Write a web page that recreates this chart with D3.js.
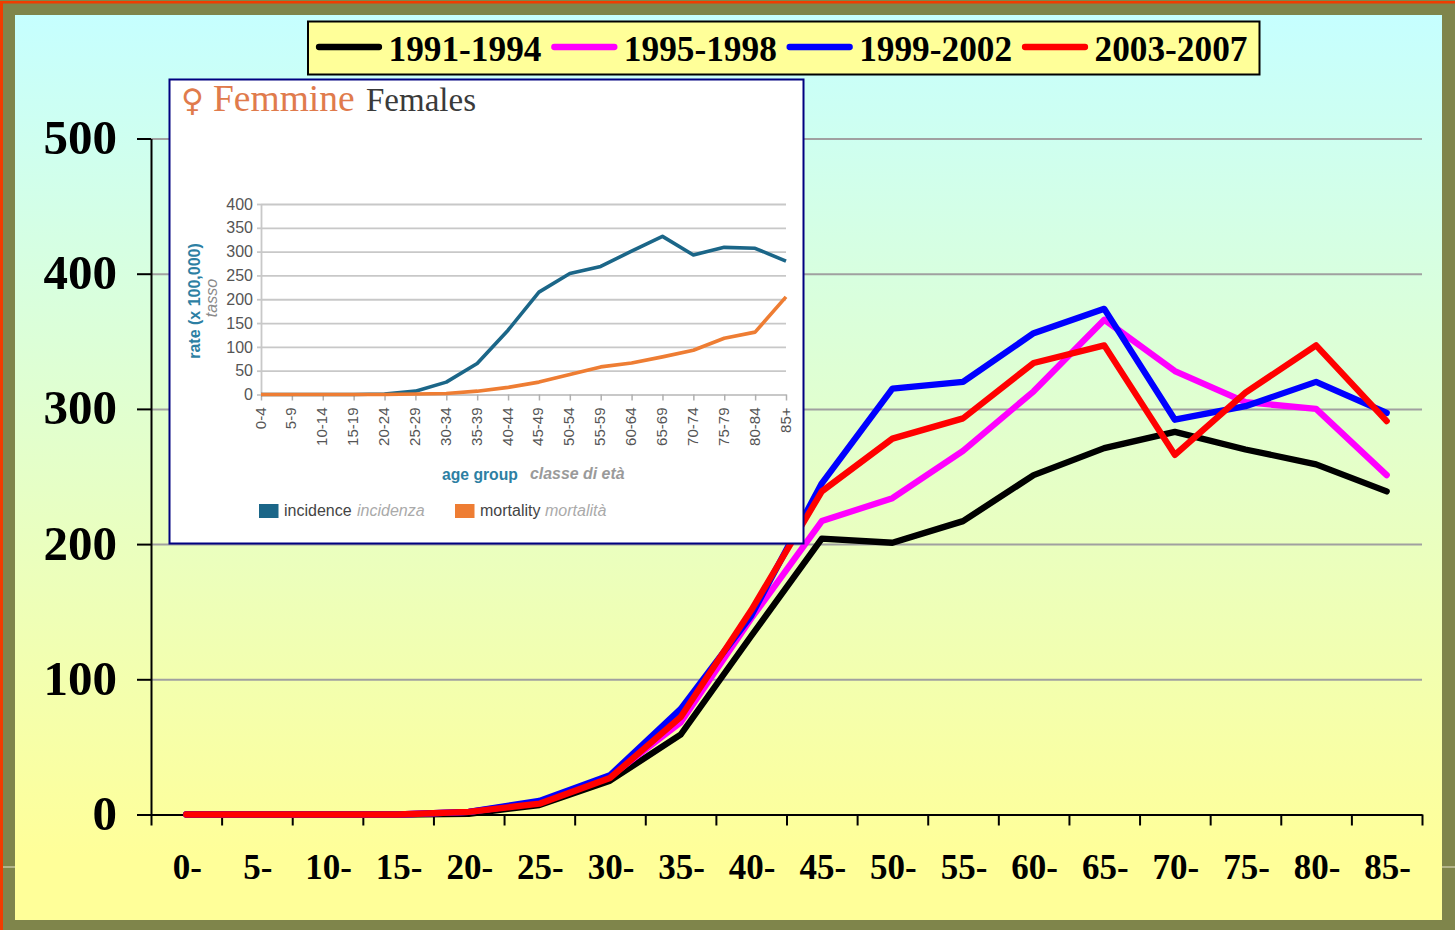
<!DOCTYPE html>
<html>
<head>
<meta charset="utf-8">
<script src="https://d3js.org/d3.v7.min.js"></script>
<style>
  html, body { margin: 0; padding: 0; background: #7f854b; overflow: hidden; }
  svg { display: block; }
</style>
</head>
<body>
<div id="chart"></div>
<script>
// main chart data
const ageGroups = ["0-", "5-", "10-", "15-", "20-", "25-", "30-", "35-", "40-", "45-", "50-", "55-", "60-", "65-", "70-", "75-", "80-", "85-"];
const yTicks = [0, 100, 200, 300, 400, 500];
const periods = ["1991-1994", "1995-1998", "1999-2002", "2003-2007"];
const periodColors = ["#000000", "#ff00ff", "#0000ff", "#ff0000"];
const rates1991 = [0, 0, 0, 0, 0.5, 7, 25, 59, 132, 204, 201, 217, 251, 271, 283, 270, 259, 239];
const rates1995 = [0, 0, 0, 0, 2, 9, 28, 68, 145, 217, 234, 269, 313, 366, 328, 305, 300, 251];
const rates1999 = [0, 0, 0, 0, 2, 10, 29, 78, 147, 245, 315, 320, 356, 374, 292, 302, 320, 297];
const rates2003 = [0, 0, 0, 0, 2, 8, 27, 72, 151, 239, 278, 293, 334, 347, 266, 312, 347, 291];

// inset chart data
const insetAges = ["0-4", "5-9", "10-14", "15-19", "20-24", "25-29", "30-34", "35-39", "40-44", "45-49", "50-54", "55-59", "60-64", "65-69", "70-74", "75-79", "80-84", "85+"];
const insetTicks = [0, 50, 100, 150, 200, 250, 300, 350, 400];
const incidence = [0, 0, 0, 0, 1, 7, 26, 65, 135, 215, 254, 269, 301, 332, 293, 309, 307, 280];
const mortality = [0, 0, 0, 0, 0, 1, 2, 7, 15, 26, 42, 58, 66, 79, 93, 118, 131, 205];

const WIDTH = 1455;
const HEIGHT = 930;
const SERIF = "'Liberation Serif', serif";
const SANS = "'Liberation Sans', sans-serif";

const svg = d3.select("#chart").append("svg")
  .attr("width", WIDTH)
  .attr("height", HEIGHT);

const grad = svg.append("defs").append("linearGradient")
  .attr("id", "panelFill")
  .attr("x1", 0).attr("y1", 0).attr("x2", 0).attr("y2", 1);
grad.append("stop").attr("offset", 0).attr("stop-color", "#c6ffff");
grad.append("stop").attr("offset", 0.93).attr("stop-color", "#ffff99");

// frame
svg.append("rect").attr("width", WIDTH).attr("height", HEIGHT).attr("fill", "#7f854b");
svg.append("rect").attr("x", 0).attr("y", 1).attr("width", WIDTH).attr("height", 2.5).attr("fill", "#f03c00");
svg.append("rect").attr("x", 0).attr("y", 1).attr("width", 3).attr("height", HEIGHT).attr("fill", "#f03c00");
svg.append("rect").attr("x", 3).attr("y", 866).attr("width", 12).attr("height", 2).attr("fill", "#b3b48a");
svg.append("rect").attr("x", 1442).attr("y", 866).attr("width", 13).attr("height", 2).attr("fill", "#b3b48a");
svg.append("rect").attr("x", 15).attr("y", 15).attr("width", 1427).attr("height", 905).attr("fill", "url(#panelFill)");

// main scales
const x = d3.scaleBand().domain(ageGroups).range([151, 1422]);
const edge = d3.scaleLinear().domain([0, ageGroups.length]).range([151, 1422]);
const y = d3.scaleLinear().domain([0, 500]).range([814.5, 138.5]);

// gridlines
svg.append("g")
  .attr("transform", "translate(151,0)")
  .call(d3.axisRight(y).tickValues(yTicks.slice(1)).tickSize(1271).tickFormat(""))
  .call(g => g.select(".domain").remove())
  .call(g => g.selectAll("line").attr("stroke", "#a0a0a0").attr("stroke-width", 2));

// axes
const yAxis = svg.append("g")
  .attr("transform", "translate(151,0)")
  .call(d3.axisLeft(y).tickValues(yTicks).tickSize(14).tickSizeOuter(0).tickPadding(20));
yAxis.select(".domain").attr("stroke", "#000").attr("stroke-width", 2);
yAxis.selectAll("line").attr("stroke", "#000").attr("stroke-width", 2);
yAxis.selectAll("text")
  .attr("font-family", SERIF).attr("font-weight", "bold").attr("font-size", 49).attr("fill", "#000")
  .attr("dy", 15);

const xAxis = svg.append("g")
  .attr("transform", "translate(0,814.5)")
  .call(d3.axisBottom(edge).tickValues(d3.range(ageGroups.length + 1)).tickSize(11).tickSizeOuter(0).tickFormat(""));
xAxis.select(".domain").attr("stroke", "#000").attr("stroke-width", 2);
xAxis.selectAll("line").attr("stroke", "#000").attr("stroke-width", 2);

svg.append("g").selectAll("text")
  .data(ageGroups)
  .join("text")
  .attr("x", d => x(d) + x.bandwidth() / 2 + 1)
  .attr("y", 879)
  .attr("text-anchor", "middle")
  .attr("font-family", SERIF).attr("font-weight", "bold").attr("font-size", 35)
  .text(d => d);

// series
const line = d3.line()
  .x((d, i) => x(ageGroups[i]) + x.bandwidth() / 2)
  .y(d => y(d));

svg.append("g").selectAll("path")
  .data([rates1991, rates1995, rates1999, rates2003])
  .join("path")
  .attr("d", line)
  .attr("fill", "none")
  .attr("stroke", (d, i) => periodColors[i])
  .attr("stroke-width", 6.3)
  .attr("stroke-linecap", "round")
  .attr("stroke-linejoin", "round");

// legend
const legend = svg.append("g");
legend.append("rect")
  .attr("x", 308).attr("y", 21.5).attr("width", 951.5).attr("height", 53)
  .attr("fill", "#ffff99").attr("stroke", "#000").attr("stroke-width", 2);
const legendX = d3.scalePoint().domain(periods).range([319, 1025]);
const legendItem = legend.selectAll("g")
  .data(periods)
  .join("g")
  .attr("transform", d => `translate(${legendX(d)},47)`);
legendItem.append("line")
  .attr("x1", 0).attr("x2", 60)
  .attr("stroke", (d, i) => periodColors[i])
  .attr("stroke-width", 6.3)
  .attr("stroke-linecap", "round");
legendItem.append("text")
  .attr("x", 69.5).attr("y", 14)
  .attr("font-family", SERIF).attr("font-weight", "bold").attr("font-size", 35.3)
  .text(d => d);

// inset
const inset = svg.append("g");
inset.append("rect")
  .attr("x", 169.5).attr("y", 79.5).attr("width", 634).attr("height", 464)
  .attr("fill", "#fff").attr("stroke", "#000080").attr("stroke-width", 2);

const title = inset.append("text").attr("y", 111);
title.append("tspan").attr("x", 181).attr("font-family", "'DejaVu Sans'").attr("font-size", 31).attr("fill", "#e07b4c").text("\u2640");
title.append("tspan").attr("x", 213).attr("font-family", SERIF).attr("font-size", 37.5).attr("fill", "#e07b4c").text("Femmine");
title.append("tspan").attr("x", 366).attr("font-family", SERIF).attr("font-size", 33).attr("fill", "#3a3a3a").text("Females");

const ix = d3.scalePoint().domain(insetAges).range([261, 786]);
const iy = d3.scaleLinear().domain([0, 400]).range([394.5, 204]);

const iyAxis = inset.append("g")
  .attr("transform", "translate(261,0)")
  .call(d3.axisRight(iy).tickValues(insetTicks).tickSize(525).tickFormat(""));
iyAxis.select(".domain").remove();
iyAxis.selectAll("line").attr("stroke", "#c8c8c8").attr("stroke-width", 1.8);

const iyLabels = inset.append("g")
  .attr("transform", "translate(261,0)")
  .call(d3.axisLeft(iy).tickValues(insetTicks).tickSize(4).tickSizeOuter(0).tickPadding(4));
iyLabels.select(".domain").attr("stroke", "#c8c8c8").attr("stroke-width", 1.8);
iyLabels.selectAll("line").attr("stroke", "#c8c8c8").attr("stroke-width", 1.8);
iyLabels.selectAll("text")
  .attr("font-family", SANS).attr("font-size", 16).attr("fill", "#555");

const ixAxis = inset.append("g")
  .attr("transform", "translate(0,394.5)")
  .call(d3.axisBottom(ix).tickSize(6).tickSizeOuter(0).tickPadding(4));
ixAxis.select(".domain").attr("stroke", "#c8c8c8").attr("stroke-width", 1.8);
ixAxis.selectAll("line").attr("stroke", "#b0b0b0").attr("stroke-width", 1.5);
ixAxis.selectAll("text")
  .attr("font-family", SANS).attr("font-size", 15).attr("fill", "#555")
  .attr("text-anchor", "end")
  .attr("dy", 0)
  .attr("transform", "translate(4,13) rotate(-90)")
  .attr("x", 0).attr("y", 0);

const iline = d3.line()
  .x((d, i) => ix(insetAges[i]))
  .y(d => iy(d));

inset.append("g").selectAll("path")
  .data([incidence, mortality])
  .join("path")
  .attr("d", iline)
  .attr("fill", "none")
  .attr("stroke", (d, i) => ["#1b6688", "#ee7d33"][i])
  .attr("stroke-width", 3.6)
  .attr("stroke-linejoin", "round");

inset.append("text")
  .attr("transform", "translate(200,301) rotate(-90)")
  .attr("text-anchor", "middle")
  .attr("font-family", SANS).attr("font-weight", "bold").attr("font-size", 16).attr("fill", "#2d7fa3")
  .text("rate (x 100,000)");
inset.append("text")
  .attr("transform", "translate(217,298) rotate(-90)")
  .attr("text-anchor", "middle")
  .attr("font-family", SANS).attr("font-style", "italic").attr("font-size", 16).attr("fill", "#8a8a8a")
  .text("tasso");

inset.append("text")
  .attr("x", 442).attr("y", 480)
  .attr("font-family", SANS).attr("font-weight", "bold").attr("font-size", 15.7).attr("fill", "#2d7fa3")
  .text("age group");
inset.append("text")
  .attr("x", 530).attr("y", 479)
  .attr("font-family", SANS).attr("font-style", "italic").attr("font-weight", "bold").attr("font-size", 15.9).attr("fill", "#9a9a9a")
  .text("classe di età");

// inset legend
const insetKeys = [
  ["incidence", "incidenza", 259, 284, 357, "#1b6688"],
  ["mortality", "mortalità", 455, 480, 545, "#ee7d33"]
];
const insetKey = inset.selectAll("g.key").data(insetKeys).join("g").attr("class", "key");
insetKey.append("rect")
  .attr("x", d => d[2]).attr("y", 504).attr("width", 19.5).attr("height", 14)
  .attr("fill", d => d[5]);
insetKey.append("text")
  .attr("x", d => d[3]).attr("y", 516)
  .attr("font-family", SANS).attr("font-size", 16).attr("fill", "#444")
  .text(d => d[0]);
insetKey.append("text")
  .attr("x", d => d[4]).attr("y", 516)
  .attr("font-family", SANS).attr("font-style", "italic").attr("font-size", 16).attr("fill", "#aaa")
  .text(d => d[1]);
</script>
</body>
</html>
